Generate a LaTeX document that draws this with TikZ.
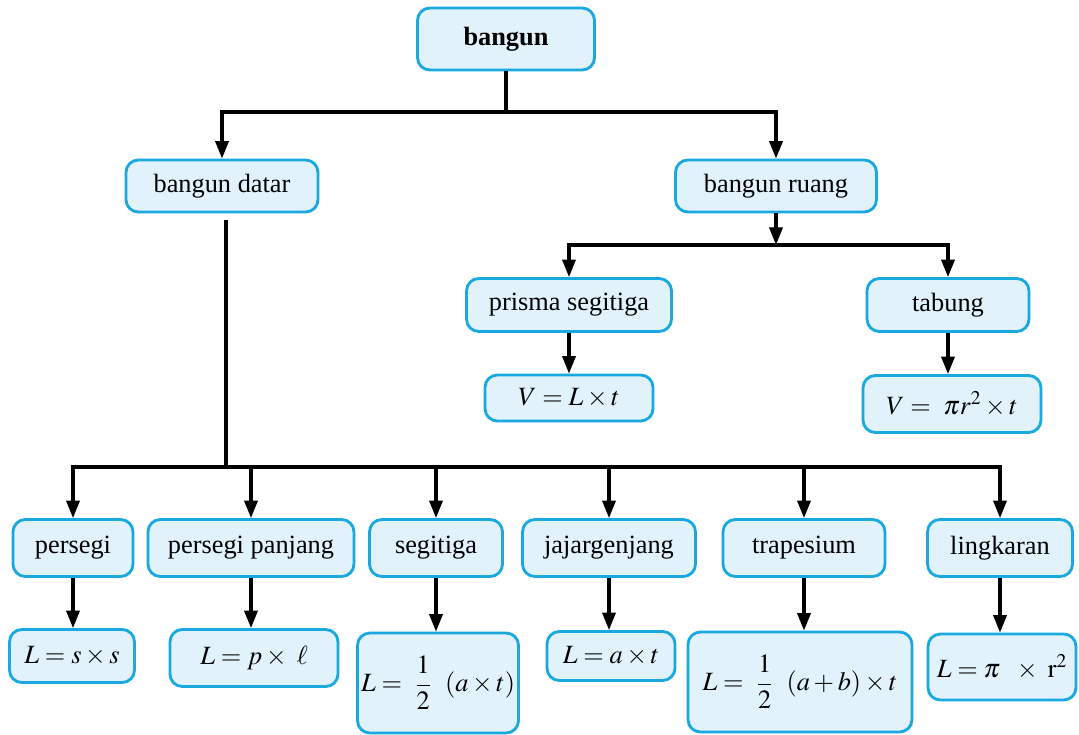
\documentclass[tikz,border=0pt]{standalone}
\usepackage{amsmath}
\usepackage{mathptmx}
\usepackage[no-math]{fontspec}
\setmainfont{Liberation Serif}
\usetikzlibrary{arrows.meta}
\definecolor{boxline}{HTML}{1AA8E0}
\definecolor{boxfill}{HTML}{E1F2FB}
\tikzset{
  box/.style={draw=boxline, fill=boxfill, line width=1.6pt, rounded corners=7pt,
    inner sep=2pt, font=\fontsize{15}{18}\selectfont},
  arr/.style={-{Triangle[length=10pt,width=7.5pt]}},
}
\begin{document}
\begin{tikzpicture}[x=0.02cm, y=-0.02cm, line width=1.8pt]
    \useasboundingbox (0,0) rectangle (1079,734);

    % akar
    \node[box, minimum width=3.54cm, minimum height=1.24cm] (bangun) at (506,39) {\textbf{bangun}};

    % cabang
    \node[box, minimum width=3.84cm, minimum height=1.04cm] (datar) at (222,186) {bangun datar};
    \node[box, minimum width=4.02cm, minimum height=1.04cm] (ruang) at (776,186) {bangun ruang};

    % bangun ruang
    \node[box, minimum width=4.10cm, minimum height=1.06cm] (prisma) at (569,305) {prisma segitiga};
    \node[box, minimum width=3.24cm, minimum height=1.06cm] (tabung) at (948,305) {tabung};
    \node[box, minimum width=3.36cm, minimum height=0.92cm] (vprisma) at (569,398) {$V = L \times t$};
    \node[box, minimum width=3.56cm, minimum height=1.14cm] (vtabung) at (952,404) {$V =\ \pi r^2 \times t$};

    % bangun datar
    \node[box, minimum width=2.40cm, minimum height=1.14cm] (persegi) at (73,548) {persegi};
    \node[box, minimum width=4.12cm, minimum height=1.14cm] (ppanjang) at (251,548) {persegi panjang};
    \node[box, minimum width=2.66cm, minimum height=1.14cm] (segitiga) at (436,548) {segitiga};
    \node[box, minimum width=3.46cm, minimum height=1.14cm] (jajar) at (609,548) {jajargenjang};
    \node[box, minimum width=3.24cm, minimum height=1.14cm] (trapesium) at (804,548) {trapesium};
    \node[box, minimum width=2.90cm, minimum height=1.14cm] (lingkaran) at (1000,548) {lingkaran};

    % rumus luas
    \node[box, minimum width=2.50cm, minimum height=1.06cm] (lpersegi) at (72,656) {$L = s \times s$};
    \node[box, minimum width=3.36cm, minimum height=1.14cm] (lppanjang) at (254,658) {$L = p \times\ \ell$};
    \node[box, minimum width=3.22cm, minimum height=2.00cm] (lsegitiga) at (438,683) {$L =\ \dfrac{1}{2}\ \ (a \times t)$};
    \node[box, minimum width=2.56cm, minimum height=0.98cm] (ljajar) at (611,656) {$L = a \times t$};
    \node[box, minimum width=4.48cm, minimum height=2.00cm] (ltrapesium) at (800,682) {$L =\ \dfrac{1}{2}\ \ (a + b) \times t$};
    \node[box, minimum width=2.96cm, minimum height=1.32cm] (llingkaran) at (1002,667) {$L = \pi\ \ \times\ \mathrm{r}^2$};

    % penghubung atas
    \coordinate (j1) at (506,112);
    \draw (bangun) -- (j1);
    \draw[arr] (j1) -| (datar.north);
    \draw[arr] (j1) -| (ruang.north);

    % penghubung bangun ruang
    \coordinate (j2) at (776,245);
    \draw[arr] (ruang) -- (j2);
    \draw[arr] (j2) -| (prisma.north);
    \draw[arr] (j2) -| (tabung.north);
    \draw[arr] (prisma) -- (vprisma);
    \draw[arr] (tabung.south) -- (tabung.south |- vtabung.north);

    % penghubung bangun datar
    \coordinate (j3) at (226,467);
    \draw[shorten <=4pt] (j3 |- datar.south) -- (j3);
    \foreach \n/\f in {persegi/lpersegi, ppanjang/lppanjang, segitiga/lsegitiga,
                       jajar/ljajar, trapesium/ltrapesium, lingkaran/llingkaran} {
        \draw[arr] (j3) -| (\n.north);
        \draw[arr] (\n.south) -- (\n.south |- \f.north);
    }
\end{tikzpicture}
\end{document}
